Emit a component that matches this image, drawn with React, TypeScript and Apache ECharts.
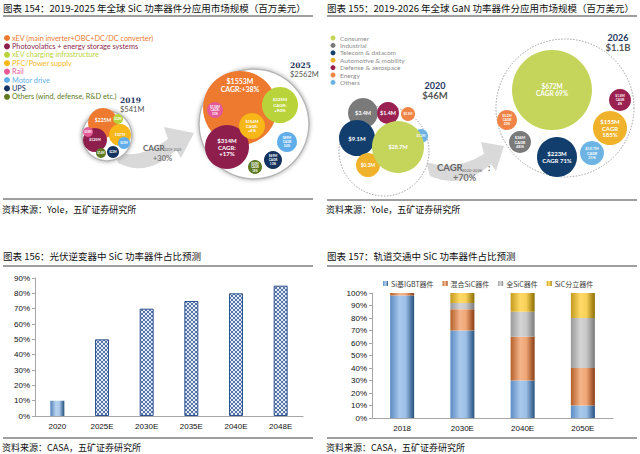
import React, { useEffect, useRef } from 'react';
import * as echarts from 'echarts';

// ---------- Data ----------
const sicApps = [
  'xEV (main inverter+OBC+DC/DC converter)',
  'Photovolatics + energy storage systems',
  'xEV charging infrastructure',
  'PFC/Power supply',
  'Rail',
  'Motor drive',
  'UPS',
  'Others (wind, defense, R&D etc.)',
];
const sicColors = ['#EE7A30', '#8E1F4D', '#B9D43A', '#F7B718', '#E45A96', '#5FAEEA', '#13325F', '#5E7B22'];
const sic2019 = [225, 125, 32, 107, 38, 23, 22, 14];
const sic2025 = [1553, 314, 225, 154, 118, 89, 69, 30];
const sicCagr = ['CAGR:+38%', 'CAGR:\n+17%', 'CAGR:\n+90%', 'CAGR:\n+6%', 'CAGR:\n33%', 'CAGR\n24%', 'CAGR\n13%', 'CAGR\n18%'];
const sicYears = ['2019', '2025'];
const sicTotals = ['$541M', '$2562M'];
const sicGrowth = ['CAGR', '2019-2025', '+30%'];

const ganApps = ['Consumer', 'Industrial', 'Telecom & datacom', 'Automotive & mobility', 'Defense & aerospace', 'Energy', 'Others'];
const ganColors = ['#C5D55B', '#7A7A7A', '#123E6E', '#F0B22A', '#9A2150', '#EF8446', '#6DB3E4'];
const gan2020 = [28.7, 3.4, 9.1, 0.3, 1.4, 0.5, 3.3];
const gan2026 = [672, 36, 223, 155, 1.8, 5.2, 15.7];
const ganCagr = ['CAGR 69%', 'CAGR\n48%', 'CAGR 71%', 'CAGR\n185%', 'CAGR\n4%', 'CAGR\n20%', 'CAGR\n31%'];
const ganYears = ['2020', '2026'];
const ganTotals = ['$46M', '$1.1B'];
const ganGrowth = ['CAGR', '2020-2026', ':', '+70%'];

const pvYears = ['2020', '2025E', '2030E', '2035E', '2040E', '2048E'];
const pvShare = [10, 50, 70, 75, 80, 85];

const railYears = ['2018', '2030E', '2040E', '2050E'];
const railSeries = ['Si基IGBT器件', '混合SiC器件', '全SiC器件', 'SiC分立器件'];
const railSi = [98, 70, 30, 10];
const railHybrid = [2, 17, 35, 30];
const railFull = [0, 5, 20, 40];
const railDiscrete = [0, 8, 15, 20];

const titles = [
  '图表 154：2019-2025 年全球 SiC 功率器件分应用市场规模（百万美元）',
  '图表 155：2019-2026 年全球 GaN 功率器件分应用市场规模（百万美元）',
  '图表 156：光伏逆变器中 SiC 功率器件占比预测',
  '图表 157：轨道交通中 SiC 功率器件占比预测',
];
const sources = ['资料来源：Yole，五矿证券研究所', '资料来源：Yole，五矿证券研究所', '资料来源：CASA，五矿证券研究所', '资料来源：CASA，五矿证券研究所'];

// ---------- Layout (infographic bubble placement: [x, y, r, fontSize, labelOffsetY]) ----------
const sicLayout2019 = [
  [103, 123, 15, 5, -3], [95, 140, 12, 3.5, 0], [118, 119, 5, 2.8, 0], [120, 135, 11, 3.2, 0],
  [88, 132, 5, 2.8, 0], [124, 143, 6, 2.8, 0], [113, 152, 6, 2.8, 0], [101, 153, 5, 2.8, 0],
];
const sicLayout2025 = [
  [240, 108, 37, 7, -23], [227, 147, 22, 6, 0], [280, 105, 18, 4.5, 0], [252, 126, 13, 4, 0],
  [215, 110, 8, 3, 0], [287, 142, 10, 3.2, 0], [273, 160, 9, 3.2, 0], [255, 167, 7, 2.8, 0],
];
const sicOuter = [[107, 136, 25], [254, 124, 55]];
const ganLayout2020 = [
  [398, 147, 26, 5.5, 0], [363, 113, 15, 5.5, 0], [357, 138, 18, 6, 0], [368, 165, 12, 5, 0],
  [388, 113, 11, 5.5, 0], [408, 114, 7, 3, 0], [421, 136, 7, 3, 0],
];
const ganLayout2026 = [
  [552, 90, 40, 6.5, 0], [520, 142, 11, 4, 0], [557, 157, 20, 6, 0], [610, 128, 17, 6, 0],
  [620, 100, 11, 3.2, 0], [507, 120, 10, 3.2, 0], [592, 153, 12, 3.8, 0],
];
const ganOuter = [[384, 151, 45], [565, 108, 69]];

const sicArrowPath = 'M116,152 Q140,160 168,139 L164,127 L194,133 L181,158 L176,150 Q148,178 118,163 Z';
const ganArrowPath = 'M426,162 Q455,172 484,154 L481,142 L504,146 L496,171 L491,164 Q462,190 430,176 Z';

const CJK = "'Noto Sans CJK SC', 'Liberation Sans', sans-serif";
const LATIN = "'Liberation Sans', 'Noto Sans CJK SC', sans-serif";
const HUM = "Lato, 'Open Sans', sans-serif";

let registered = false;
function registerShapes() {
  if (registered) return;
  registered = true;
  echarts.graphic.registerShape('sicArrow', echarts.graphic.extendPath(sicArrowPath, {}) as any);
  echarts.graphic.registerShape('ganArrow', echarts.graphic.extendPath(ganArrowPath, {}) as any);
}

function cyl(edgeL: string, mid: string, mid2: string, edgeR: string) {
  return new echarts.graphic.LinearGradient(0, 0, 1, 0, [
    { offset: 0, color: edgeL },
    { offset: 0.4, color: mid },
    { offset: 0.65, color: mid2 },
    { offset: 1, color: edgeR },
  ]);
}

function makeHatch() {
  const c = document.createElement('canvas');
  c.width = 4;
  c.height = 4;
  const ctx = c.getContext('2d')!;
  ctx.fillStyle = '#e4ebf5';
  ctx.fillRect(0, 0, 4, 4);
  ctx.fillStyle = '#5575a8';
  for (let i = 0; i < 4; i++) {
    ctx.fillRect(i, i, 1, 1);
    ctx.fillRect(3 - i, i, 1, 1);
  }
  return c;
}

function fmtM(v: number) {
  return `$${v}M`;
}

function bubbleData(values: number[], layout: number[][], colors: string[], extra: string[] | null, order: number[]) {
  return order.map((i) => {
    const [x, y, r, fs, dy] = layout[i];
    const text = extra ? `${fmtM(values[i])}\n${extra[i]}` : fmtM(values[i]);
    return {
      value: [x, y],
      symbolSize: r * 2,
      itemStyle: { color: colors[i] },
      label: { formatter: text, fontSize: fs, lineHeight: fs * 1.15, offset: [0, dy] },
    };
  });
}

export default function App() {
  const ref = useRef<HTMLDivElement>(null);
  useEffect(() => {
    document.body.style.margin = '0';
    registerShapes();
    const chart = echarts.init(ref.current!, null, { renderer: 'svg' });
    const hatch = makeHatch();

    const graphics: any[] = [];
    const panelX = [3, 327, 3, 327];
    const titleY = [8, 8, 256, 256];
    const ruleY = [16, 16, 266, 266];
    const srcRuleY = [199, 200, 438, 438];
    const srcY = [209, 209, 447, 447];
    for (let p = 0; p < 4; p++) {
      graphics.push({
        type: 'text', x: panelX[p], y: titleY[p],
        style: { text: titles[p], font: `9.5px ${CJK}`, fill: '#111', textVerticalAlign: 'middle' },
      });
      graphics.push({
        type: 'line', shape: { x1: panelX[p], y1: ruleY[p], x2: panelX[p] + 310, y2: ruleY[p] },
        style: { stroke: '#7f7f7f', lineWidth: 1.5 },
      });
      graphics.push({
        type: 'line', shape: { x1: panelX[p], y1: srcRuleY[p], x2: panelX[p] + 310, y2: srcRuleY[p] },
        style: { stroke: '#7f7f7f', lineWidth: 1.5 },
      });
      graphics.push({
        type: 'text', x: panelX[p] - 1, y: srcY[p],
        style: { text: sources[p], font: `9px ${CJK}`, fill: '#111', textVerticalAlign: 'middle' },
      });
    }
    sicApps.forEach((name, i) => {
      const y = 38 + i * 8.4;
      graphics.push({ type: 'circle', shape: { cx: 7, cy: y, r: 3 }, style: { fill: sicColors[i] } });
      graphics.push({
        type: 'text', x: 12, y,
        style: { text: name, font: `7.3px ${HUM}`, fill: sicColors[i], textVerticalAlign: 'middle' },
      });
    });
    ganApps.forEach((name, i) => {
      const y = 38 + i * 7.4;
      graphics.push({ type: 'circle', shape: { cx: 333, cy: y, r: 2.5 }, style: { fill: ganColors[i] } });
      graphics.push({
        type: 'text', x: 340, y,
        style: { text: name, font: `6.5px ${HUM}`, fill: '#8c8c8c', textVerticalAlign: 'middle' },
      });
    });
    const sicYearPos = [[120, 100], [290, 65]];
    sicYears.forEach((yr, i) => {
      const [x, y] = sicYearPos[i];
      graphics.push({ type: 'text', x, y, style: { text: yr, font: `bold 7.5px 'DejaVu Serif', serif`, fill: '#1f3864', textVerticalAlign: 'middle' } });
      graphics.push({ type: 'text', x, y: y + 9, style: { text: sicTotals[i], font: `7.5px ${HUM}`, fill: '#555', textVerticalAlign: 'middle' } });
    });
    const ganYearPos = [[435, 85], [618, 37]];
    ganYears.forEach((yr, i) => {
      const [x, y] = ganYearPos[i];
      graphics.push({ type: 'text', x, y, style: { text: yr, font: `bold 9px ${HUM}`, fill: '#1f3864', textAlign: 'center', textVerticalAlign: 'middle' } });
      graphics.push({ type: 'text', x, y: y + 10, style: { text: ganTotals[i], font: `bold 9.5px ${HUM}`, fill: '#555', textAlign: 'center', textVerticalAlign: 'middle' } });
    });
    graphics.push({ type: 'sicArrow', x: 0, y: 0, z: 1, style: { fill: '#d9d9d9' } });
    graphics.push({ type: 'ganArrow', x: 0, y: 0, z: 1, style: { fill: '#d9d9d9' } });
    graphics.push({ type: 'text', x: 143, y: 148, z: 5, style: { text: sicGrowth[0], font: `bold 8px ${HUM}`, fill: '#666', textVerticalAlign: 'middle' } });
    graphics.push({ type: 'text', x: 164, y: 150, z: 5, style: { text: sicGrowth[1], font: `3.5px ${HUM}`, fill: '#666', textVerticalAlign: 'middle' } });
    graphics.push({ type: 'text', x: 153, y: 158, z: 5, style: { text: sicGrowth[2], font: `bold 7.5px ${HUM}`, fill: '#777', textVerticalAlign: 'middle' } });
    graphics.push({ type: 'text', x: 437, y: 167, z: 5, style: { text: ganGrowth[0], font: `bold 9.5px ${HUM}`, fill: '#666', textVerticalAlign: 'middle' } });
    graphics.push({ type: 'text', x: 462, y: 170, z: 5, style: { text: ganGrowth[1], font: `4px ${HUM}`, fill: '#666', textVerticalAlign: 'middle' } });
    graphics.push({ type: 'text', x: 488, y: 167, z: 5, style: { text: ganGrowth[2], font: `bold 9px ${HUM}`, fill: '#666', textVerticalAlign: 'middle' } });
    graphics.push({ type: 'text', x: 453, y: 177, z: 5, style: { text: ganGrowth[3], font: `bold 9px ${HUM}`, fill: '#777', textVerticalAlign: 'middle' } });

    const sicOrder = [0, 1, 2, 3, 4, 5, 6, 7];
    const ganOrder = [1, 2, 3, 4, 5, 6, 0];

    const axisLbl = { fontSize: 8, color: '#111', fontFamily: LATIN };
    const gray = '#a6a6a6';

    const option: any = {
      animation: false,
      backgroundColor: '#fff',
      graphic: { elements: graphics },
      legend: {
        data: railSeries,
        left: 378,
        top: 275,
        itemWidth: 5,
        itemHeight: 5,
        itemGap: 9,
        icon: 'rect',
        textStyle: { fontSize: 7, color: '#404040', fontFamily: CJK, padding: [0, 0, 0, -2] },
      },
      grid: [
        { left: 0, top: 0, width: 640, height: 454 },
        { left: 35, right: 337, top: 278, bottom: 38 },
        { left: 372, right: 27, top: 293, bottom: 36 },
      ],
      xAxis: [
        { gridIndex: 0, type: 'value', min: 0, max: 640, show: false },
        {
          gridIndex: 1, type: 'category', data: pvYears,
          axisLine: { lineStyle: { color: gray } },
          axisTick: { alignWithLabel: true, length: 3, lineStyle: { color: gray } },
          axisLabel: { ...axisLbl, margin: 6 },
        },
        {
          gridIndex: 2, type: 'category', data: railYears,
          axisLine: { lineStyle: { color: gray } },
          axisTick: { length: 3, lineStyle: { color: gray } },
          axisLabel: { ...axisLbl, margin: 6 },
        },
      ],
      yAxis: [
        { gridIndex: 0, type: 'value', min: 0, max: 454, inverse: true, show: false },
        {
          gridIndex: 1, type: 'value', min: 0, max: 90, interval: 10,
          axisLine: { show: true, lineStyle: { color: gray } },
          axisTick: { show: true, length: 3, lineStyle: { color: gray } },
          splitLine: { show: false },
          axisLabel: { ...axisLbl, margin: 5, formatter: '{value}%' },
        },
        {
          gridIndex: 2, type: 'value', min: 0, max: 100, interval: 10,
          axisLine: { show: true, lineStyle: { color: gray } },
          axisTick: { show: true, length: 3, lineStyle: { color: gray } },
          splitLine: { show: false },
          axisLabel: { ...axisLbl, margin: 5, formatter: '{value}%' },
        },
      ],
      series: [
        {
          type: 'scatter', xAxisIndex: 0, yAxisIndex: 0, z: 1, silent: true,
          data: sicOuter.map(([x, y, r]) => ({ value: [x, y], symbolSize: r * 2 })),
          itemStyle: { color: '#fff', borderColor: '#b5b5b5', borderWidth: 1.5, shadowBlur: 4, shadowColor: 'rgba(0,0,0,0.35)', opacity: 1 },
        },
        {
          type: 'scatter', xAxisIndex: 0, yAxisIndex: 0, z: 1, silent: true,
          data: ganOuter.map(([x, y, r]) => ({ value: [x, y], symbolSize: r * 2 })),
          itemStyle: { color: '#fff', borderColor: '#a0a0a0', borderWidth: 1, borderType: [1.5, 1.5], opacity: 1 },
        },
        {
          type: 'scatter', xAxisIndex: 0, yAxisIndex: 0, z: 3, silent: true,
          data: [
            ...bubbleData(sic2019, sicLayout2019, sicColors, null, sicOrder),
            ...bubbleData(sic2025, sicLayout2025, sicColors, sicCagr, sicOrder),
            ...bubbleData(gan2020, ganLayout2020, ganColors, null, ganOrder),
            ...bubbleData(gan2026, ganLayout2026, ganColors, ganCagr, ganOrder),
          ],
          itemStyle: { opacity: 1 },
          label: { show: true, position: 'inside', color: '#fff', fontWeight: 'bold', fontFamily: HUM, align: 'center' },
        },
        {
          type: 'bar', xAxisIndex: 1, yAxisIndex: 1, barWidth: 14,
          data: pvShare.map((v, i) => ({
            value: v,
            itemStyle: i === 0
              ? { color: cyl('#4f7fb8', '#b9d3ef', '#a9c7ea', '#1f4e79') }
              : { color: { image: hatch, repeat: 'repeat' }, borderColor: '#2f528f', borderWidth: 1 },
          })),
        },
        {
          name: railSeries[0], type: 'bar', stack: 'rail', xAxisIndex: 2, yAxisIndex: 2, barWidth: 24,
          data: railSi, itemStyle: { color: cyl('#5b8cc4', '#a9c9ec', '#9cbfe6', '#25507f') },
        },
        {
          name: railSeries[1], type: 'bar', stack: 'rail', xAxisIndex: 2, yAxisIndex: 2, barWidth: 24,
          data: railHybrid, itemStyle: { color: cyl('#b55f28', '#f4b48a', '#efa676', '#8a3d10') },
        },
        {
          name: railSeries[2], type: 'bar', stack: 'rail', xAxisIndex: 2, yAxisIndex: 2, barWidth: 24,
          data: railFull, itemStyle: { color: cyl('#999999', '#d4d4d4', '#c8c8c8', '#7a7a7a') },
        },
        {
          name: railSeries[3], type: 'bar', stack: 'rail', xAxisIndex: 2, yAxisIndex: 2, barWidth: 24,
          data: railDiscrete, itemStyle: { color: cyl('#c49a1e', '#ffda66', '#f7d058', '#8c6d00') },
        },
      ],
    };
    chart.setOption(option);
    return () => chart.dispose();
  }, []);
  return <div ref={ref} style={{ width: 640, height: 454, background: '#fff' }} />;
}
